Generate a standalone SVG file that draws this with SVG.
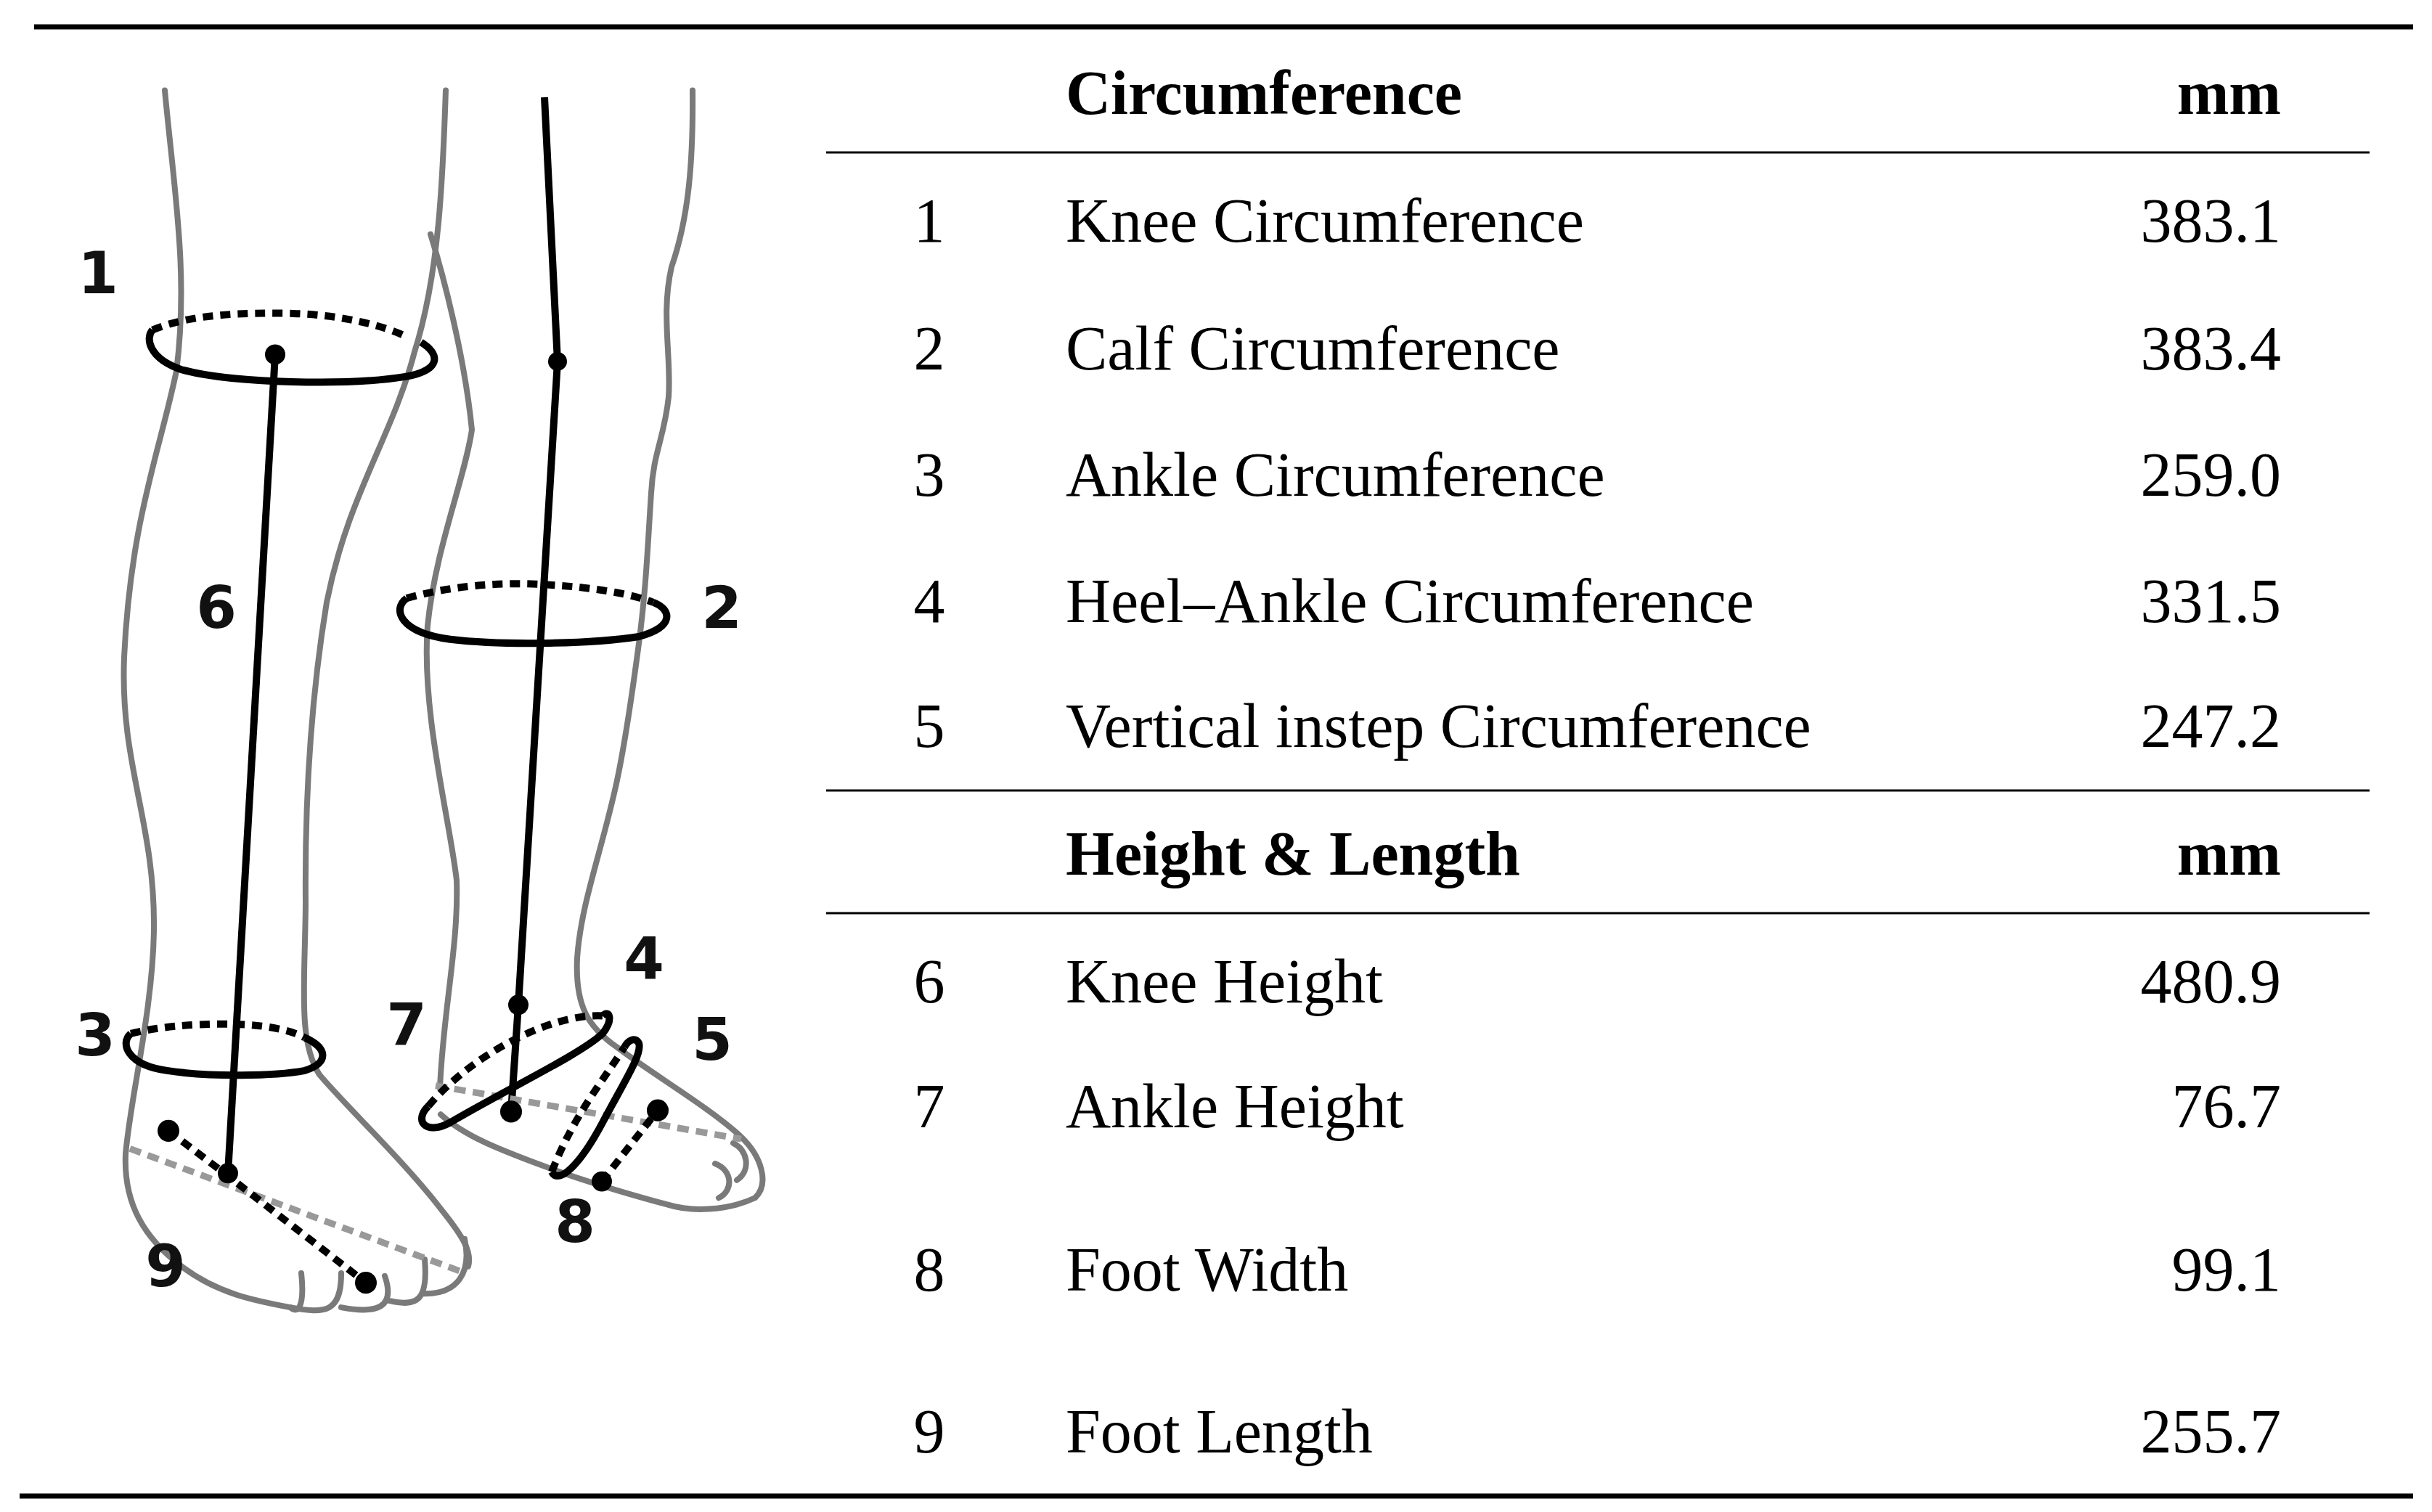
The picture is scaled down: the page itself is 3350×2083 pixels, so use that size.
<svg xmlns="http://www.w3.org/2000/svg" width="3350" height="2083" viewBox="0 0 3350 2083">
<style>
.rule{stroke:#000;stroke-width:7}
.thin{stroke:#000;stroke-width:3}
.t{font-family:"Liberation Serif",serif;font-size:86px;fill:#000}
.b{font-weight:bold}
.r{text-anchor:end}
.c{text-anchor:middle}
.fig path,.fig line,.fig polyline{vector-effect:non-scaling-stroke}
.out{fill:none;stroke:#7a7a7a;stroke-width:8;stroke-linecap:round;stroke-linejoin:round}
.solid{fill:none;stroke:#000;stroke-width:10}
.dot{fill:none;stroke:#000;stroke-width:10;stroke-dasharray:14 10}
.gdot{fill:none;stroke:#999;stroke-width:9;stroke-dasharray:16 10}
.lab{font-family:"DejaVu Sans",sans-serif;font-weight:bold;font-size:80px;fill:#111;text-anchor:middle}
</style>
<rect width="3350" height="2083" fill="#fff"/>
<g id="rules">
<line class="rule" x1="47" y1="37" x2="3324" y2="37"/>
<line class="rule" x1="27" y1="2061" x2="3324" y2="2061"/>
<line class="thin" x1="1138" y1="210" x2="3264" y2="210"/>
<line class="thin" x1="1138" y1="1089" x2="3264" y2="1089"/>
<line class="thin" x1="1138" y1="1258" x2="3264" y2="1258"/>
</g>
<g class="fig" transform="scale(1,1.886)">
<g id="outlines">
<path class="out" d="M227,66 C240,140 260,200 243,271 C220,330 180,380 171,480 C165,560 214,600 212,680 C210,740 180,800 173,843 C170,880 200,905 250,925 C300,945 350,950 400,955"/>
<path class="out" d="M400,955 C410,960 420,955 415,930 M400,955 C450,960 470,958 470,930 M470,955 C520,960 545,955 530,932 M535,950 C575,955 590,950 585,920 M585,945 C630,945 650,930 640,905"/>
<path class="out" d="M614,66 C610,130 605,200 571,257 C540,320 480,360 450,440 C425,520 420,600 421,660 C420,720 410,760 440,785 C480,810 560,850 610,885 C640,905 650,915 645,925"/>
<path class="out" d="M593,171 C610,200 640,260 650,314 C640,350 600,400 589,457 C580,520 620,600 629,643 C632,690 610,740 606,795"/>
<path class="out" d="M954,66 C955,120 948,160 925,195 C910,230 925,260 921,290 C915,320 900,330 897,360 C892,400 890,430 880,470 C870,510 862,540 850,570 C830,620 800,660 795,700 C792,735 810,750 850,765 C900,785 980,810 1020,830 C1050,845 1060,865 1040,875 C1000,885 950,885 920,880 C850,870 790,860 740,850 C690,840 640,830 607,814"/>
<path class="out" d="M1010,835 C1030,840 1035,855 1015,862 M985,850 C1010,855 1010,870 990,875"/>
</g>
<g id="measures">
<path class="dot" d="M210,241 C260,230 330,228 404,229 C470,230 530,238 560,246"/>
<path class="solid" d="M210,241 C200,247 205,262 250,270 C320,280 480,282 560,275 C610,270 605,258 580,250"/>
<path class="dot" d="M180,755 C220,750 260,748 311,748 C360,748 400,752 420,758"/>
<path class="solid" d="M180,755 C165,762 175,778 230,782 C290,787 380,786 420,782 C455,776 450,765 420,758"/>
<path class="dot" d="M560,437 C620,428 690,425 750,427 C820,429 870,434 900,440"/>
<path class="solid" d="M560,437 C540,445 550,462 620,467 C700,472 820,470 880,465 C930,458 925,445 900,440"/>
<line class="solid" x1="379" y1="259" x2="314" y2="857"/>
<polyline class="solid" points="750,71 768,264 714,734 704,812"/>
<line class="gdot" x1="179" y1="839" x2="636" y2="929"/>
<line class="gdot" x1="600" y1="793" x2="1021" y2="832"/>
<path class="dot" d="M232,826 L314,859 L504,937"/>
<path class="dot" d="M590,808 C650,770 760,740 830,742"/>
<path class="solid" d="M590,808 C570,818 585,830 620,820 C700,795 800,770 830,755 C845,745 840,737 830,742"/>
<path class="dot" d="M760,856 C790,815 830,790 860,765"/>
<path class="solid" d="M760,856 C770,866 800,850 830,820 C860,790 885,770 880,762 C875,757 865,760 860,765"/>
<path class="dot" d="M829,863 L906,811"/>
<ellipse cx="379" cy="259" rx="14" ry="7.4"/><ellipse cx="314" cy="857" rx="14" ry="7.4"/>
<ellipse cx="768" cy="264" rx="13" ry="6.9"/><ellipse cx="714" cy="734" rx="14" ry="7.4"/><ellipse cx="704" cy="812" rx="15" ry="8"/>
<ellipse cx="232" cy="826" rx="15" ry="8"/><ellipse cx="504" cy="937" rx="15" ry="8"/>
<ellipse cx="829" cy="863" rx="14" ry="7.4"/><ellipse cx="906" cy="811" rx="15" ry="8"/>
</g>
</g>
<g id="labels">
<text class="lab" x="135" y="404">1</text>
<text class="lab" x="298" y="865">6</text>
<text class="lab" x="994" y="865">2</text>
<text class="lab" x="131" y="1454">3</text>
<text class="lab" x="560" y="1439">7</text>
<text class="lab" x="887" y="1349">4</text>
<text class="lab" x="981" y="1460">5</text>
<text class="lab" x="792" y="1711">8</text>
<text class="lab" x="228" y="1772">9</text>
</g>
<g id="table">
<text class="t b" x="1468" y="157">Circumference</text>
<text class="t b r" x="3142" y="157">mm</text>
<text class="t c" x="1280" y="333">1</text><text class="t" x="1468" y="333">Knee Circumference</text><text class="t r" x="3142" y="333">383.1</text>
<text class="t c" x="1280" y="509">2</text><text class="t" x="1468" y="509">Calf Circumference</text><text class="t r" x="3142" y="509">383.4</text>
<text class="t c" x="1280" y="683">3</text><text class="t" x="1468" y="683">Ankle Circumference</text><text class="t r" x="3142" y="683">259.0</text>
<text class="t c" x="1280" y="857">4</text><text class="t" x="1468" y="857">Heel–Ankle Circumference</text><text class="t r" x="3142" y="857">331.5</text>
<text class="t c" x="1280" y="1029">5</text><text class="t" x="1468" y="1029">Vertical instep Circumference</text><text class="t r" x="3142" y="1029">247.2</text>
<text class="t b" x="1468" y="1205">Height &amp; Length</text>
<text class="t b r" x="3142" y="1205">mm</text>
<text class="t c" x="1280" y="1381">6</text><text class="t" x="1468" y="1381">Knee Height</text><text class="t r" x="3142" y="1381">480.9</text>
<text class="t c" x="1280" y="1553">7</text><text class="t" x="1468" y="1553">Ankle Height</text><text class="t r" x="3142" y="1553">76.7</text>
<text class="t c" x="1280" y="1778">8</text><text class="t" x="1468" y="1778">Foot Width</text><text class="t r" x="3142" y="1778">99.1</text>
<text class="t c" x="1280" y="2001">9</text><text class="t" x="1468" y="2001">Foot Length</text><text class="t r" x="3142" y="2001">255.7</text>
</g>
</svg>
